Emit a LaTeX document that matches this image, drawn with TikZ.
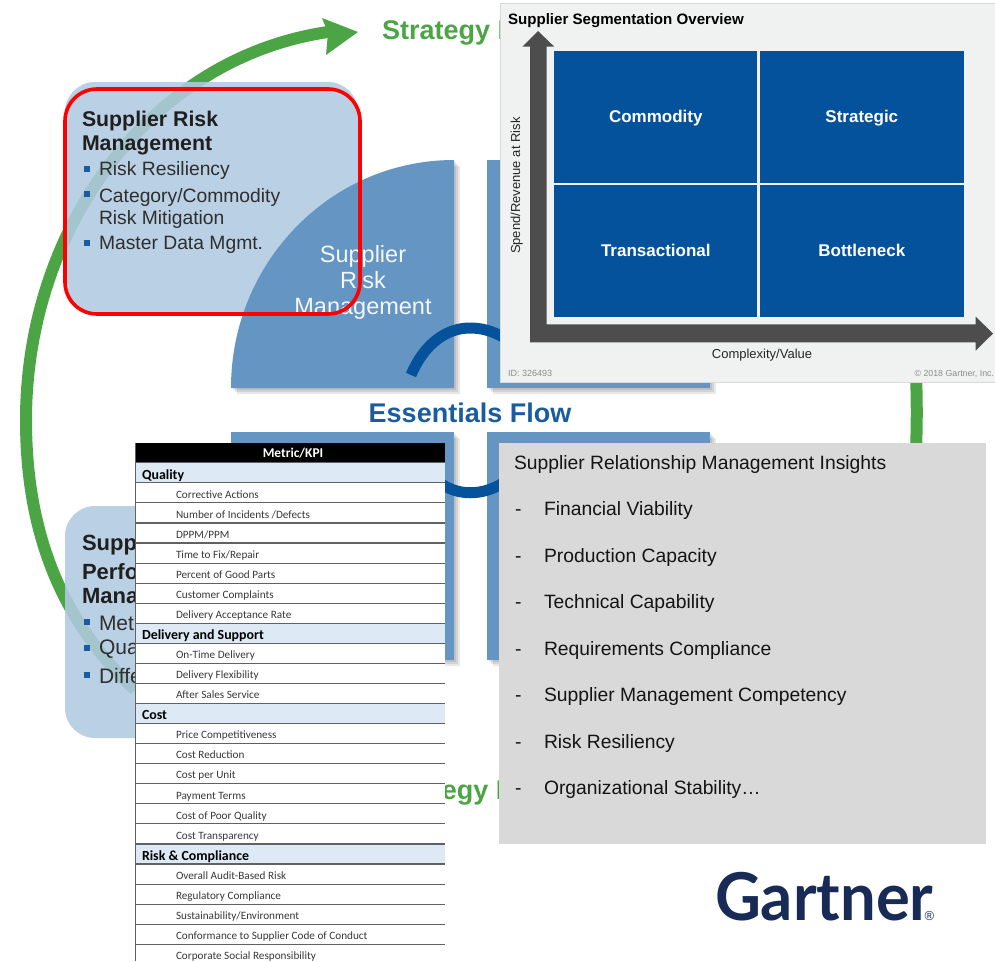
\documentclass[tikz,border=0pt]{standalone}
\usepackage{fontspec}
\setmainfont{Liberation Sans}
\newfontfamily\tablefont{Carlito}
\newfontfamily\logofont{Lato}
\definecolor{greenarc}{HTML}{4BA544}
\definecolor{boxblue}{RGB}{177,202,225}
\definecolor{quadblue}{HTML}{6595C2}
\definecolor{deepblue}{HTML}{03529B}
\definecolor{flowblue}{HTML}{1A5CA0}
\definecolor{axisgrey}{HTML}{4D4D4D}
\definecolor{panelgrey}{HTML}{F0F1F1}
\definecolor{catblue}{HTML}{DDE9F5}
\definecolor{insightgrey}{HTML}{D9D9D9}
\definecolor{logonavy}{HTML}{172B56}
\newcommand{\px}[1]{\fontsize{#1}{#1}\selectfont}
\tikzset{
  x=1pt,y=-1pt,
  txtz/.style={inner sep=0pt,outer sep=0pt,anchor=west},
  txt/.style={txtz,yshift=-2pt},
  heading/.style={txt,font=\px{21.3}\bfseries,text=black!88},
  bul/.style={txt,font=\px{19.3},text=black!82},
  sq/.style={fill=flowblue,minimum size=5.5pt,inner sep=0pt,outer sep=0pt},
  greenhead/.style={txt,font=\px{27}\bfseries,text=greenarc},
  softbox/.style={fill=boxblue,fill opacity=.88,rounded corners=30pt},
  cell/.style={fill=deepblue,inner sep=0pt,outer sep=0pt,anchor=north west},
  seglabel/.style={inner sep=0pt,text=white,font=\px{17}\bfseries,text height=12.5pt,text depth=0pt},
  cat/.style={txtz,font=\tablefont\px{13.9}\bfseries,text=black,text height=9pt,text depth=3pt},
  item/.style={txtz,font=\tablefont\px{11.2},text=black!78,text height=8pt,text depth=2.5pt},
  insight/.style={txt,font=\px{19.3},text=black!92,text height=14pt,text depth=4pt},
  quad/.style={fill=quadblue},
  quadsh/.style={fill=black,fill opacity=.09},
  qtext/.style={inner sep=0pt,anchor=base,font=\px{23.5},text=white!92!quadblue},
}
\begin{document}
\begin{tikzpicture}
\useasboundingbox (0,0) rectangle (995,961);
% green cycle
\draw[greenarc,line width=12pt] (135,690) .. controls (66,625) and (26,540) .. (26,420) .. controls (26,228) and (150,58) .. (328,32);
\fill[greenarc] (322,18) -- (358,32) -- (326,55) -- (328,33) -- cycle;
\draw[greenarc,line width=12pt] (916,375) .. controls (917,400) and (917,425) .. (916,450);
\node[greenhead] (stratTop) at (382,31) {Strategy I};
\node[greenhead,anchor=east] (stratBot) at (503.5,791) {egy I};
% soft boxes
\path[softbox] (65,82) rectangle (358,314);
\path[softbox] (65,506) rectangle (358,738);
% quadrants
\foreach \d in {2,4,6}{
  \fill[quadsh,xshift=\d pt,yshift=-\d pt] (454,160) arc[start angle=90,end angle=180,x radius=223,y radius=-228] -- (454,388) -- cycle;
  \fill[quadsh,xshift=\d pt,yshift=-\d pt] (487,160) rectangle (710,388);
  \fill[quadsh,xshift=\d pt,yshift=-\d pt] (231,432) rectangle (454,660);
  \fill[quadsh,xshift=\d pt,yshift=-\d pt] (487,432) rectangle (710,660);
}
\fill[quad] (454,160) arc[start angle=90,end angle=180,x radius=223,y radius=-228] -- (454,388) -- cycle;
\fill[quad] (487,160) rectangle (710,388);
\fill[quad] (231,432) rectangle (454,660);
\fill[quad] (487,432) rectangle (710,660);
% centre arcs
\draw[deepblue,line width=11pt] (411,375) .. controls (425,342) and (448,328) .. (470,328) .. controls (482,328) and (492,331) .. (503,337);
\draw[deepblue,line width=11pt] (440,483) .. controls (458,496) and (482,496) .. (503,483);
% quadrant and centre labels
\node[qtext] (q1) at (363,262) {Supplier};
\node[qtext] (q2) at (363,288) {Risk};
\node[qtext] (q3) at (363,314) {Management};
\node[inner sep=0pt,font=\px{27}\bfseries,text=flowblue] (flow) at (470,413) {Essentials Flow};
% upper box text
\node[heading] (h1) at (82,119) {Supplier Risk};
\node[heading] (h2) at (82,143) {Management};
\node[sq] (s1) at (87,169) {};
\node[bul] (b1) at (99,169) {Risk Resiliency};
\node[sq] (s2) at (87,194) {};
\node[bul] (b2) at (99,196) {Category/Commodity};
\node[bul] (b3) at (99,218) {Risk Mitigation};
\node[sq] (s3) at (87,243) {};
\node[bul] (b4) at (99,243) {Master Data Mgmt.};
% lower box text
\node[heading,font=\px{22}\bfseries] (h3) at (82,543) {Supp};
\node[heading,font=\px{22}\bfseries] (h4) at (82,570) {Perfo};
\node[heading,font=\px{22}\bfseries] (h5) at (82,594) {Mana};
\node[sq] (s4) at (87,622) {};
\node[bul,font=\px{21}] (b5) at (99,621) {Met};
\node[sq] (s5) at (87,648) {};
\node[bul,font=\px{21}] (b6) at (99,647) {Qua};
\node[sq] (s6) at (87,675) {};
\node[bul,font=\px{21}] (b7) at (99,674) {Diffe};
% red outline
\draw[red,line width=3.6pt,rounded corners=32pt] (65,89) rectangle (360,314);
% segmentation panel
\fill[panelgrey,draw=black!15,line width=1pt] (500,3.5) rectangle (996,382);
\node[txt,font=\px{15.1}\bfseries,text=black] (segtitle) at (508,19) {Supplier Segmentation Overview};
\node[cell,minimum width=203pt,minimum height=132.3pt] (c1) at (554.3,51) {};
\node[cell,minimum width=203.7pt,minimum height=132.3pt] (c2) at (760,51) {};
\node[cell,minimum width=203pt,minimum height=131.7pt] (c3) at (554.3,185) {};
\node[cell,minimum width=203.7pt,minimum height=131.7pt] (c4) at (760,185) {};
\node[seglabel] (l1) at (655.8,116) {Commodity};
\node[seglabel] (l2) at (861.8,116) {Strategic};
\node[seglabel] (l3) at (655.8,250.5) {Transactional};
\node[seglabel] (l4) at (861.8,250.5) {Bottleneck};
\fill[axisgrey] (530,342.3) -- (530,46.7) -- (522.3,46.7) -- (538,31) -- (554.3,46.7) -- (546.7,46.7) -- (546.7,324.3) -- (975.7,324.3) -- (975.7,316.7) -- (993,333.5) -- (975.7,350.7) -- (975.7,342.3) -- cycle;
\node[inner sep=0pt,rotate=90,font=\px{13},text=black!85] (ylab) at (516.7,185.7) {Spend/Revenue at Risk};
\node[inner sep=0pt,font=\px{13},text=black!85] (xlab) at (762,355.5) {Complexity/Value};
\node[txtz,font=\px{9},text=black!45] (idl) at (508,373) {ID: 326493};
\node[txtz,anchor=east,font=\px{8.8},text=black!45] (copyl) at (994,373.5) {© 2018 Gartner, Inc.};
% insights panel
\fill[insightgrey] (499,443) rectangle (986,844);
\node[insight] (i0) at (514,462) {Supplier Relationship Management Insights};
\foreach \n/\yy/\t in {1/508/Financial Viability,2/555/Production Capacity,3/601/Technical Capability,4/648/Requirements Compliance,5/694/Supplier Management Competency,6/741/Risk Resiliency,7/787/Organizational Stability…}{
  \node[insight] (d\n) at (515,\yy) {-};
  \node[insight] (i\n) at (544,\yy) {\t};
}
% metric table
\fill[white] (135,442.5) rectangle (445,961);
\fill[black] (135,442.5) rectangle (445,462.8);
\node[inner sep=0pt,text=white,font=\tablefont\px{13.4}\bfseries] (thead) at (293,453) {Metric/KPI};
\foreach \r in {0,8,12,19}{
  \fill[catblue] (135,{462.8+\r*20.06}) rectangle (445,{462.8+(\r+1)*20.06});
}
\foreach \r in {0,...,24}{
  \draw[black!62,line width=1.1pt] (135,{462.8+\r*20.06}) -- (445,{462.8+\r*20.06});
}
\draw[black!62,line width=1.1pt] (135.5,442.5) -- (135.5,961);
\foreach \r/\t in {0/{Quality},8/{Delivery and Support},12/{Cost},19/{Risk \& Compliance}}{
  \node[cat] (cat\r) at (142,{476+\r*20.06}) {\t};
}
\foreach \r/\t in {1/{Corrective Actions},2/{Number of Incidents /Defects},3/{DPPM/PPM},4/{Time to Fix/Repair},5/{Percent of Good Parts},6/{Customer Complaints},7/{Delivery Acceptance Rate},9/{On-Time Delivery},10/{Delivery Flexibility},11/{After Sales Service},13/{Price Competitiveness},14/{Cost Reduction},15/{Cost per Unit},16/{Payment Terms},17/{Cost of Poor Quality},18/{Cost Transparency},20/{Overall Audit-Based Risk},21/{Regulatory Compliance},22/{Sustainability/Environment},23/{Conformance to Supplier Code of Conduct},24/{Corporate Social Responsibility}}{
  \node[item] (row\r) at (176,{475.3+\r*20.06}) {\t};
}
% logo
\node[txtz,font=\logofont\px{66}\bfseries,text=logonavy,xscale=.96] (logo) at (715,897) {Gartner};
\node[inner sep=0pt,font=\px{13},text=logonavy] (reg) at (929.5,916) {®};
\end{tikzpicture}
\end{document}
